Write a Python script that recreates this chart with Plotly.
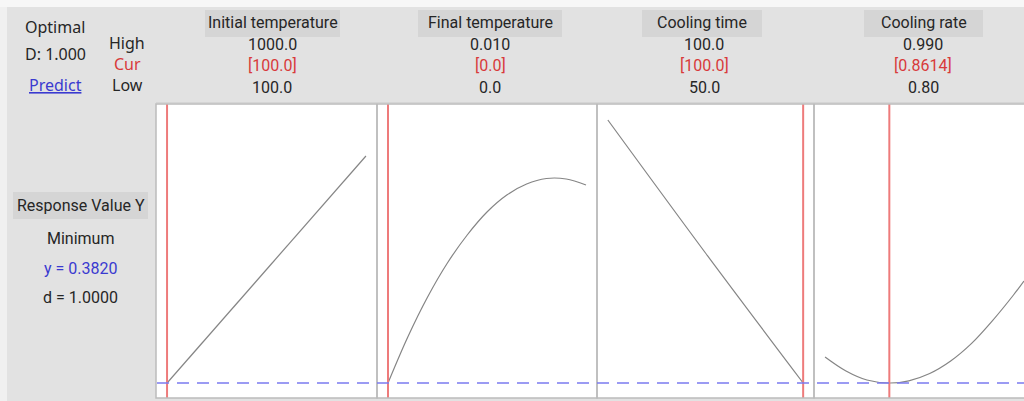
import plotly.graph_objects as go

# ---------------- data ----------------
factor_names = ["Initial temperature", "Final temperature", "Cooling time", "Cooling rate"]
high_labels = ["1000.0", "0.010", "100.0", "0.990"]
cur_labels = ["[100.0]", "[0.0]", "[100.0]", "[0.8614]"]
low_labels = ["100.0", "0.0", "50.0", "0.80"]
factor_low = [100.0, 0.0, 50.0, 0.80]
factor_high = [1000.0, 0.010, 100.0, 0.99]
factor_cur = [100.0, 0.0, 100.0, 0.8614]

init_temp_x = [100, 550, 1000]
init_temp_y = [0.382, 0.4955, 0.609]

final_temp_x = [0.0, 0.001, 0.002, 0.003, 0.004, 0.005, 0.006, 0.007, 0.008, 0.009, 0.010]
final_temp_y = [0.382, 0.428, 0.468, 0.502, 0.530, 0.553, 0.570, 0.581, 0.5865, 0.586, 0.580]

cool_time_x = [50, 75, 100]
cool_time_y = [0.645, 0.512, 0.382]

cool_rate_x = [0.80, 0.82, 0.84, 0.8614, 0.88, 0.90, 0.92, 0.94, 0.96, 0.98, 0.99]
cool_rate_y = [0.408, 0.394, 0.385, 0.382, 0.3842, 0.3915, 0.404, 0.4216, 0.4444, 0.470, 0.484]

curves_x = [init_temp_x, final_temp_x, cool_time_x, cool_rate_x]
curves_y = [init_temp_y, final_temp_y, cool_time_y, cool_rate_y]

response_name = "Response Value Y"
goal = "Minimum"
y_opt = 0.3820
d_val = 1.0000
D_total = 1.000

# ---------------- layout helpers ----------------
W, H = 1024, 401
def X(px):
    return px / W
def Y(py):
    return 1 - py / H

panel_px = [(156, 377), (377, 597), (597, 814), (814, 1035)]
pad_frac = 11.0 / 198.0
panel_top, panel_bot = 104, 398
y_range = [0.367, 0.661]

NARROW = "Roboto"
SANS = "Noto Sans"
GRAY_BG = "#e2e2e2"
BOX_BG = "#d5d5d5"
RED = "#d83a3a"
BLUE = "#3a3ad0"
TXT = "#262626"

fig = go.Figure()
layout_axes = {}
shapes = []
annotations = []

for i in range(4):
    ax = "" if i == 0 else str(i + 1)
    lo, hi = factor_low[i], factor_high[i]
    span = hi - lo
    x0px, x1px = panel_px[i]
    rng = [lo - pad_frac * span, hi + pad_frac * span]
    dom = [X(x0px), min(1.0, X(x1px))]
    if x1px > W:
        frac = (W - x0px) / (x1px - x0px)
        rng = [rng[0], rng[0] + frac * (rng[1] - rng[0])]
        dom = [X(x0px), 1.0]
    layout_axes["xaxis" + ax] = dict(domain=dom, range=rng, anchor="y",
                                     showgrid=False, zeroline=False,
                                     showticklabels=False, ticks="", showline=False)
    fig.add_trace(go.Scatter(x=curves_x[i], y=curves_y[i], mode="lines",
                             xaxis="x" + ax, yaxis="y",
                             line=dict(color="#858585", width=1.2, shape="spline"),
                             showlegend=False, hoverinfo="skip"))
    shapes.append(dict(type="line", xref="x" + ax, yref="paper",
                       x0=factor_cur[i], x1=factor_cur[i],
                       y0=Y(panel_bot), y1=Y(panel_top),
                       line=dict(color="#ee7b7b", width=2), layer="above"))
    shapes.append(dict(type="rect", xref="paper", yref="paper",
                       x0=X(x0px), x1=min(X(x1px), 1.2), y0=Y(panel_bot), y1=Y(panel_top),
                       line=dict(color="#bcbcbc", width=1.5), layer="above"))

layout_axes["yaxis"] = dict(domain=[Y(panel_bot), Y(panel_top)], range=y_range,
                            showgrid=False, zeroline=False, showticklabels=False,
                            ticks="", showline=False, anchor="x")

shapes.append(dict(type="line", xref="paper", yref="y",
                   x0=X(157), x1=1.0, y0=y_opt, y1=y_opt,
                   line=dict(color="#7b7bf0", width=1.5, dash="12px,8px"), layer="above"))

shapes.insert(0, dict(type="rect", xref="paper", yref="paper", x0=0, x1=1,
                      y0=Y(7), y1=1, fillcolor="#f7f7f7", line=dict(width=0), layer="below"))
shapes.insert(0, dict(type="rect", xref="paper", yref="paper", x0=0, x1=X(7),
                      y0=0, y1=1, fillcolor="#f0f0f0", line=dict(width=0), layer="below"))
shapes.append(dict(type="line", xref="paper", yref="paper", x0=X(156), x1=1,
                   y0=Y(103), y1=Y(103), line=dict(color="#c8c8c8", width=1)))

header_cx = [272, 490, 704, 923]
box_px = [(205, 340), (418, 562), (642, 762), (864, 983)]
for i in range(4):
    bx0, bx1 = box_px[i]
    shapes.append(dict(type="rect", xref="paper", yref="paper",
                       x0=X(bx0), x1=X(bx1), y0=Y(37), y1=Y(10),
                       fillcolor=BOX_BG, line=dict(width=0), layer="below"))
    cx = X(header_cx[i])
    annotations.append(dict(text=factor_names[i], x=X((bx0 + bx1) / 2), y=Y(22)))
    annotations.append(dict(text=high_labels[i], x=cx, y=Y(44)))
    annotations.append(dict(text=cur_labels[i], x=cx, y=Y(65), font=dict(color=RED)))
    annotations.append(dict(text=low_labels[i], x=cx, y=Y(87)))

annotations += [
    dict(text="Optimal", x=X(55), y=Y(27), font=dict(family=SANS, size=16)),
    dict(text="D: %.3f" % D_total, x=X(55), y=Y(54), font=dict(family=SANS, size=16)),
    dict(text="<u>Predict</u>", x=X(55), y=Y(85), font=dict(family=SANS, size=16, color=BLUE)),
    dict(text="High", x=X(127), y=Y(43), font=dict(family=SANS, size=16)),
    dict(text="Cur", x=X(127), y=Y(64), font=dict(family=SANS, size=16, color=RED)),
    dict(text="Low", x=X(127), y=Y(85), font=dict(family=SANS, size=16)),
    dict(text=response_name, x=X(81), y=Y(205)),
    dict(text=goal, x=X(80), y=Y(239)),
    dict(text="y = %.4f" % y_opt, x=X(80), y=Y(268), font=dict(color=BLUE)),
    dict(text="d = %.4f" % d_val, x=X(80), y=Y(297)),
]
shapes.append(dict(type="rect", xref="paper", yref="paper", x0=X(13), x1=X(148),
                   y0=Y(219), y1=Y(192), fillcolor=BOX_BG, line=dict(width=0), layer="below"))

for a in annotations:
    a.setdefault("xref", "paper")
    a.setdefault("yref", "paper")
    a.setdefault("showarrow", False)
    a.setdefault("xanchor", "center")
    a.setdefault("yanchor", "middle")
    f = dict(family=NARROW, size=16, color=TXT)
    f.update(a.get("font", {}))
    a["font"] = f

fig.update_layout(width=W, height=H, autosize=False,
                  margin=dict(l=0, r=0, t=0, b=0),
                  paper_bgcolor=GRAY_BG, plot_bgcolor="white",
                  shapes=shapes, annotations=annotations, showlegend=False,
                  **layout_axes)

fig.write_html("out.html", config={"displayModeBar": False},
               post_script="document.body.style.margin='0';document.body.style.padding='0';")
